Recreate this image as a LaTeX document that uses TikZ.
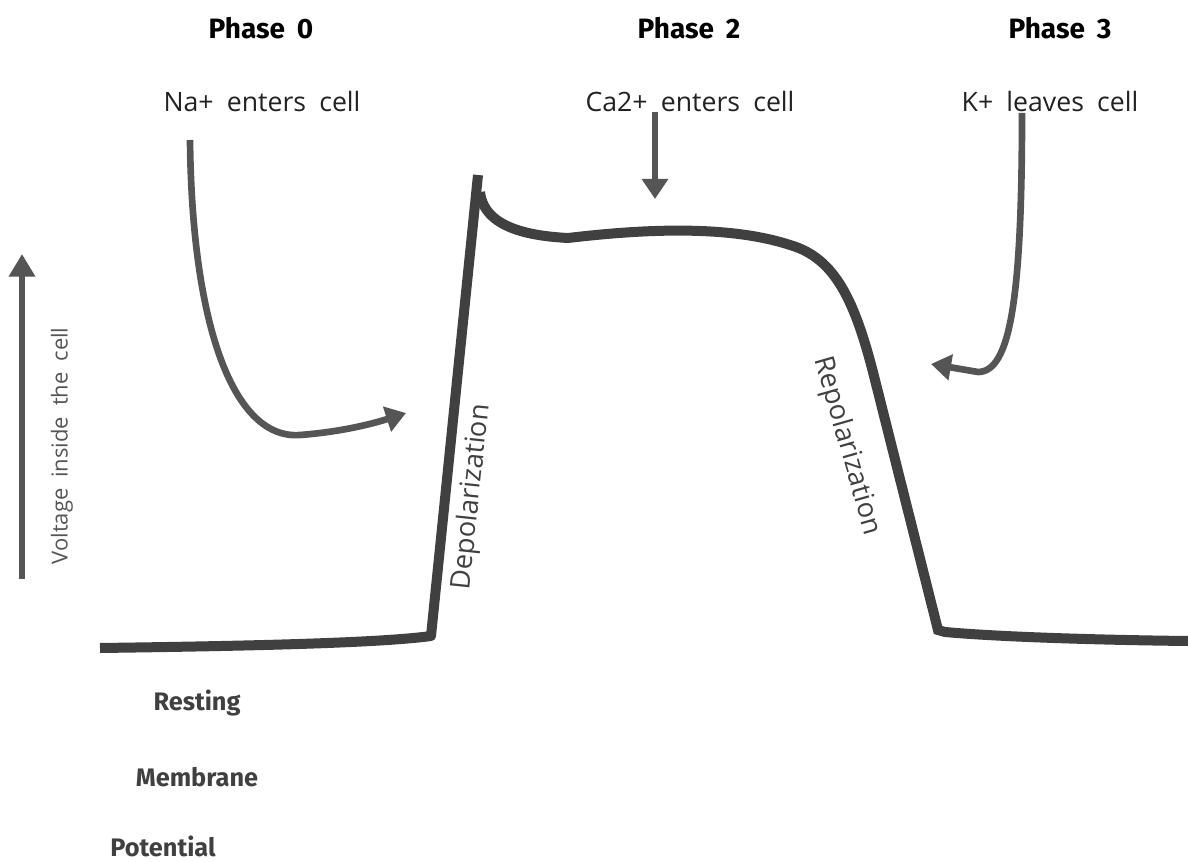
\documentclass[tikz,border=0pt]{standalone}
\usepackage{fontspec}
\setmainfont{Open Sans}
\newfontfamily\hdfont[WordSpace=1.8]{Fira Sans}
\newfontfamily\ionfont[WordSpace=1.9]{Open Sans}
\usetikzlibrary{arrows.meta}
\definecolor{curve}{HTML}{404040}
\definecolor{arr}{HTML}{555555}
\definecolor{txt}{HTML}{222222}
\begin{document}
\begin{tikzpicture}[x=0.75pt,y=-0.75pt,
  phase/.style={font=\hdfont\bfseries\fontsize{21}{24}\selectfont, text=black},
  ion/.style={font=\ionfont\fontsize{20}{23}\selectfont, text=txt},
  rest/.style={font=\hdfont\bfseries\fontsize{19}{22}\selectfont, text=curve, inner sep=1pt},
  ap/.style={draw=curve, line width=7.5pt},
  ionarrow/.style={draw=arr, line width=5pt, -{Triangle[width=19pt,length=15pt]}},
  lbl/.style={font=\fontsize{20.5}{23}\selectfont, text=curve}]
\useasboundingbox (0,0) rectangle (1188,862);
% headers
\node[phase] (p0) at (261,28) {Phase 0};
\node[phase] (p2) at (689,28) {Phase 2};
\node[phase] (p3) at (1060,28) {Phase 3};
\node[ion] (na) at (262,102) {Na+ enters cell};
\node[ion] (ca) at (690,102) {Ca2+ enters cell};
\node[ion] (k) at (1050,102) {K+ leaves cell};
% ion arrows
\coordinate (nas) at (190,140);
\coordinate (nae) at (406,413);
\draw[ionarrow] (nas) .. controls (192,330) and (235,440) .. (300,435) .. controls (340,432) and (372,424) .. (nae);
\coordinate (cas) at (655,112);
\coordinate (cae) at (655,199);
\draw[ionarrow] (cas) -- (cae);
\coordinate (ks) at (1022,113);
\coordinate (ke) at (931,364);
\draw[ionarrow] (ks) .. controls (1022,300) and (1010,372) .. (978,372) -- (ke);
% voltage axis
\coordinate (vs) at (22,579);
\coordinate (ve) at (22,254);
\draw[draw=arr, line width=5pt, -{Triangle[width=19pt,length=17pt]}] (vs) -- (ve);
\node[font=\ionfont\fontsize{16.5}{19}\selectfont, text=arr, rotate=90] (vlab) at (62,446) {Voltage inside the cell};
% action potential
\coordinate (a0) at (100,648);
\coordinate (a1) at (431,636);
\coordinate (a2) at (478,175);
\coordinate (b0) at (480,192);
\coordinate (b1) at (568,238);
\coordinate (b2) at (790,245);
\coordinate (b3) at (875,380);
\coordinate (b4) at (938,630);
\coordinate (c0) at (945,632);
\coordinate (c1) at (1188,641);
\draw[ap, line join=round] (a0) .. controls (250,646) and (380,643) .. (a1) -- (a2);
\draw[ap] (b0) .. controls (484,228) and (530,236) .. (b1) .. controls (620,232) and (720,222) .. (b2) .. controls (835,258) and (855,300) .. (b3) -- (b4) -- (c0) .. controls (1000,637) and (1100,640) .. (c1);
\node[lbl, rotate=84] (dep) at (472,497) {Depolarization};
\node[lbl, rotate=-74] (rep) at (847,446) {Repolarization};
% bottom labels
\node[rest] (r1) at (197,703) {Resting};
\node[rest] (r2) at (197,777) {Membrane};
\node[rest] (r3) at (163,846) {Potential};
\end{tikzpicture}
\end{document}
